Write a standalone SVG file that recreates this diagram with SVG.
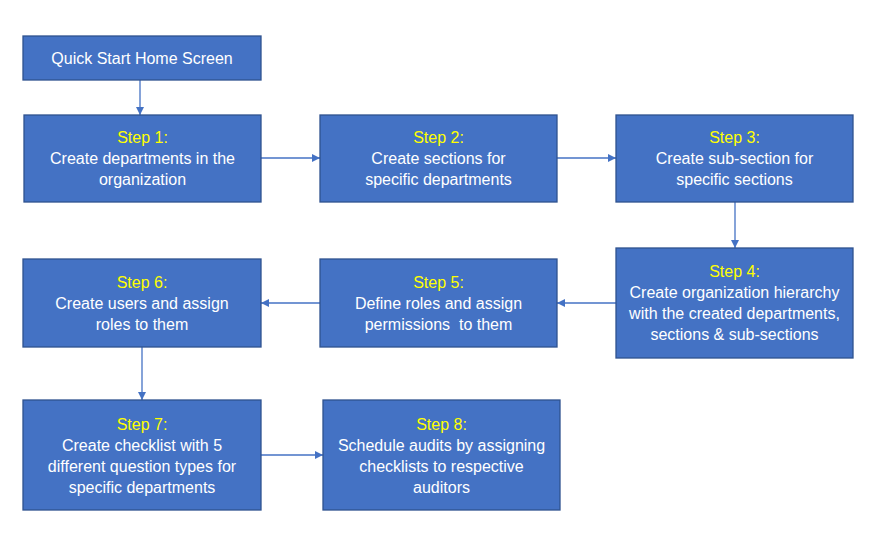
<svg xmlns="http://www.w3.org/2000/svg" width="885" height="542" viewBox="0 0 885 542">
<defs>
<style>
.box{fill:#4472C4;stroke:#2F528F;stroke-width:1.3}
.t{font-family:"Liberation Sans",Arial,sans-serif;font-size:16px;fill:#FFFFFF;text-anchor:middle}
.s{fill:#FFFF00}
.c{stroke:#4472C4;stroke-width:1.3;fill:none;marker-end:url(#ah)}
</style>
<marker id="ah" viewBox="0 0 10 10" refX="10" refY="5" markerWidth="8" markerHeight="8" markerUnits="userSpaceOnUse" orient="auto">
<path d="M0,0 L10,5 L0,10 z" fill="#4472C4"/>
</marker>
</defs>
<rect width="885" height="542" fill="#FFFFFF"/>
<g id="connectors">
<line class="c" x1="140" y1="80" x2="140" y2="115"/>
<line class="c" x1="261" y1="158" x2="320" y2="158"/>
<line class="c" x1="557" y1="158" x2="616" y2="158"/>
<line class="c" x1="735" y1="202" x2="735" y2="248"/>
<line class="c" x1="616" y1="303" x2="557" y2="303"/>
<line class="c" x1="320" y1="303" x2="261" y2="303"/>
<line class="c" x1="142" y1="347" x2="142" y2="400"/>
<line class="c" x1="261" y1="455" x2="323" y2="455"/>
</g>
<g id="home">
<rect class="box" x="23" y="36" width="238" height="44"/>
<text class="t" x="142" y="64">Quick Start Home Screen</text>
</g>
<g id="step1">
<rect class="box" x="24" y="115" width="237" height="87"/>
<text class="t" x="142.5" y="143"><tspan class="s">Step 1:</tspan><tspan x="142.5" dy="21">Create departments in the</tspan><tspan x="142.5" dy="21">organization</tspan></text>
</g>
<g id="step2">
<rect class="box" x="320" y="115" width="237" height="87"/>
<text class="t" x="438.5" y="143"><tspan class="s">Step 2:</tspan><tspan x="438.5" dy="21">Create sections for</tspan><tspan x="438.5" dy="21">specific departments</tspan></text>
</g>
<g id="step3">
<rect class="box" x="616" y="115" width="237" height="87"/>
<text class="t" x="734.5" y="143"><tspan class="s">Step 3:</tspan><tspan x="734.5" dy="21">Create sub-section for</tspan><tspan x="734.5" dy="21">specific sections</tspan></text>
</g>
<g id="step4">
<rect class="box" x="616" y="248" width="237" height="110"/>
<text class="t" x="734.5" y="277"><tspan class="s">Step 4:</tspan><tspan x="734.5" dy="21">Create organization hierarchy</tspan><tspan x="734.5" dy="21">with the created departments,</tspan><tspan x="734.5" dy="21">sections &amp; sub-sections</tspan></text>
</g>
<g id="step5">
<rect class="box" x="320" y="259" width="237" height="88"/>
<text class="t" x="438.5" y="288"><tspan class="s">Step 5:</tspan><tspan x="438.5" dy="21">Define roles and assign</tspan><tspan x="438.5" dy="21">permissions&#160; to them</tspan></text>
</g>
<g id="step6">
<rect class="box" x="23" y="259" width="238" height="88"/>
<text class="t" x="142" y="288"><tspan class="s">Step 6:</tspan><tspan x="142" dy="21">Create users and assign</tspan><tspan x="142" dy="21">roles to them</tspan></text>
</g>
<g id="step7">
<rect class="box" x="23" y="400" width="238" height="110"/>
<text class="t" x="142" y="430"><tspan class="s">Step 7:</tspan><tspan x="142" dy="21">Create checklist with 5</tspan><tspan x="142" dy="21">different question types for</tspan><tspan x="142" dy="21">specific departments</tspan></text>
</g>
<g id="step8">
<rect class="box" x="323" y="400" width="237" height="110"/>
<text class="t" x="441.5" y="430"><tspan class="s">Step 8:</tspan><tspan x="441.5" dy="21">Schedule audits by assigning</tspan><tspan x="441.5" dy="21">checklists to respective</tspan><tspan x="441.5" dy="21">auditors</tspan></text>
</g>
</svg>
